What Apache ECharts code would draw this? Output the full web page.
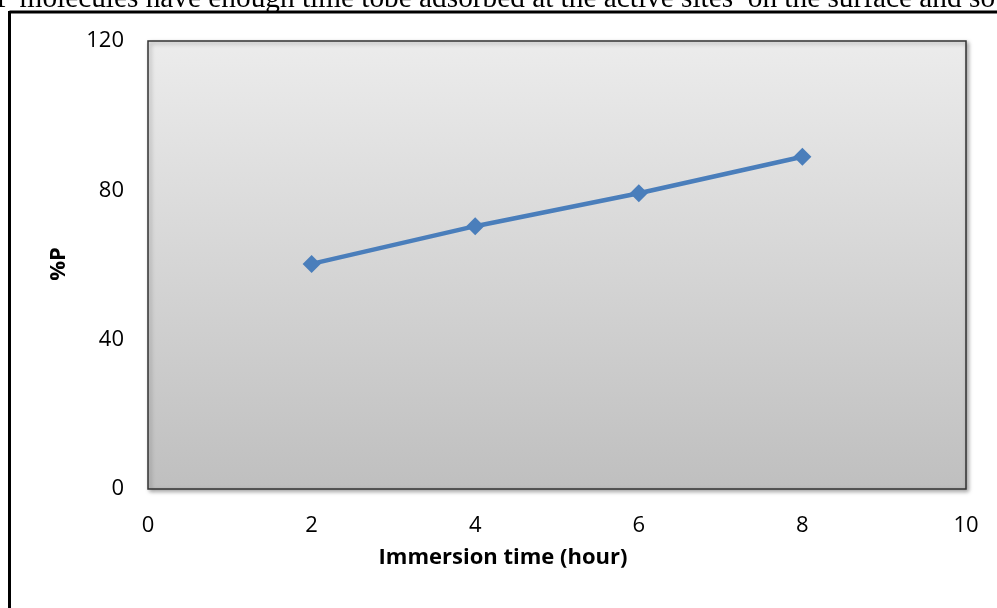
<!DOCTYPE html>
<html>
<head>
<meta charset="utf-8">
<script src="https://cdn.jsdelivr.net/npm/echarts@6/dist/echarts.min.js"></script>
<style>
  html, body { margin: 0; padding: 0; background: #fff; }
  #chart { width: 997px; height: 608px; }
</style>
</head>
<body>
<div id="chart"></div>
<script>
// Immersion time (hours) and inhibition efficiency %P
const immersionHours = [2, 4, 6, 8];
const percentP = [60.3, 70.4, 79.2, 89];
const xTicks = { min: 0, max: 10, interval: 2 };
const yTicks = { min: 0, max: 120, interval: 40 };
const xTitle = 'Immersion time (hour)';
const yTitle = '%P';
const bodyText = 'P molecules have enough time tobe adsorbed at the active sites  on the surface and so';

const chart = echarts.init(document.getElementById('chart'), null, { renderer: 'canvas' });

const labelFont = '"Open Sans", Lato, "Liberation Sans", sans-serif';

chart.setOption({
  animation: false,
  grid: {
    show: true,
    left: 148, right: 31, top: 41, bottom: 119,
    backgroundColor: new echarts.graphic.LinearGradient(0, 0, 0, 1, [
      { offset: 0, color: '#ececec' },
      { offset: 1, color: '#bfbfbf' }
    ]),
    borderColor: '#333',
    borderWidth: 1.5,
    shadowBlur: 4,
    shadowColor: 'rgba(0,0,0,0.35)',
    shadowOffsetX: 2,
    shadowOffsetY: 2
  },
  xAxis: {
    type: 'value',
    min: xTicks.min, max: xTicks.max, interval: xTicks.interval,
    axisLine: { show: false },
    axisTick: { show: false },
    splitLine: { show: false },
    axisLabel: { color: '#000', fontSize: 22, fontFamily: labelFont, margin: 26 }
  },
  yAxis: {
    type: 'value',
    min: yTicks.min, max: yTicks.max, interval: yTicks.interval,
    axisLine: { show: false },
    axisTick: { show: false },
    splitLine: { show: false },
    axisLabel: { color: '#000', fontSize: 22, fontFamily: labelFont, margin: 24, padding: [8, 0, 0, 0] }
  },
  series: [{
    type: 'line',
    data: immersionHours.map((h, i) => [h, percentP[i]]),
    symbol: 'diamond',
    symbolSize: 18,
    lineStyle: { color: '#4a7ebb', width: 4.5 },
    itemStyle: { color: '#4a7ebb' }
  }],
  graphic: [
    {
      type: 'text',
      x: -4, y: 14,
      style: {
        text: bodyText,
        font: '29.3px "Liberation Serif", "Times New Roman", serif',
        fill: '#000',
        verticalAlign: 'bottom'
      },
      z: 1
    },
    {
      type: 'text',
      x: 503, y: 558,
      style: {
        text: xTitle,
        font: 'bold 22px ' + labelFont,
        fill: '#000',
        align: 'center',
        verticalAlign: 'middle'
      }
    },
    {
      type: 'text',
      x: 59, y: 264,
      rotation: Math.PI / 2,
      style: {
        text: yTitle,
        font: 'bold 22px ' + labelFont,
        fill: '#000',
        align: 'center',
        verticalAlign: 'middle'
      }
    },
    {
      type: 'line',
      shape: { x1: 9.5, y1: 12, x2: 997, y2: 12 },
      style: { stroke: '#000', lineWidth: 3 },
      z: 10
    },
    {
      type: 'line',
      shape: { x1: 9.5, y1: 11, x2: 9.5, y2: 608 },
      style: { stroke: '#000', lineWidth: 3 },
      z: 10
    }
  ]
});
</script>
</body>
</html>
